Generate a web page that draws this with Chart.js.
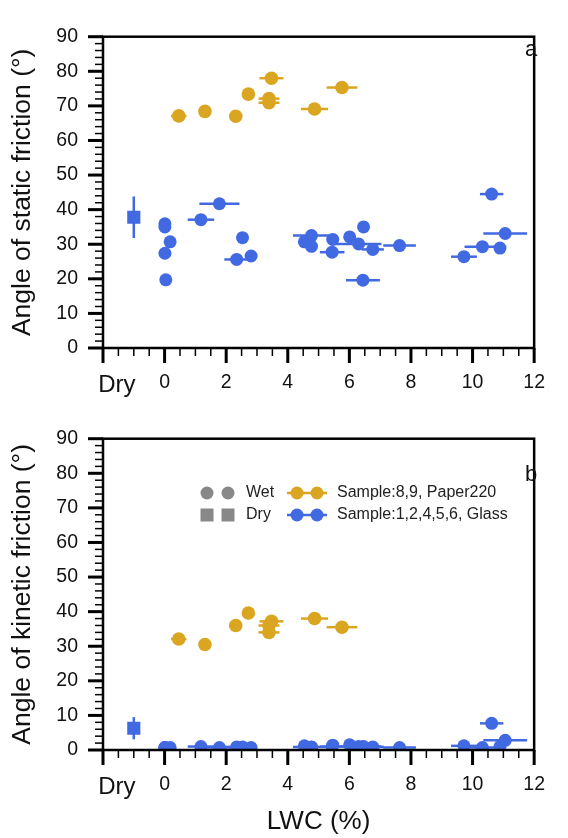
<!DOCTYPE html>
<html>
<head>
<meta charset="utf-8">
<script src="https://cdn.jsdelivr.net/npm/chart.js@4.4.0/dist/chart.umd.min.js"></script>
<style>
  html, body { margin: 0; padding: 0; background: #fff; }
  canvas { display: block; }
</style>
</head>
<body>
<canvas id="chartA" width="568" height="402"></canvas>
<canvas id="chartB" width="568" height="436"></canvas>
<script>
const FONT = "'Liberation Sans', Arial, Helvetica, sans-serif";
const GOLD = '#DAA520';
const BLUE = '#4169E1';
const GREY = '#888888';

// Sample 8,9 (Paper220), wet
const paperLwc = [0.46, 1.31, 2.31, 2.72, 3.47, 3.39, 3.39, 4.87, 5.76];
const paperLwcErr = [0.25, 0, 0, 0, 0.39, 0.34, 0.34, 0.44, 0.5];
const paperStatic = [67.1, 68.4, 67.0, 73.4, 78.0, 72.1, 70.9, 69.1, 75.3];
const paperKinetic = [32.1, 30.5, 36.0, 39.6, 37.2, 36.0, 34.0, 38.0, 35.5];

// Sample 1,2,4,5,6 (Glass), wet
const glassLwc = [0.01, 0.01, 0.18, 0.01, 0.04, 1.18, 1.78, 2.53, 2.34, 2.81, 4.77, 4.54, 4.77,
  5.46, 5.44, 6.01, 6.46, 6.30, 6.76, 7.63, 6.44, 10.62, 11.06, 10.32, 10.89, 9.72];
const glassLwcErr = [0, 0, 0, 0, 0, 0.43, 0.65, 0.18, 0.40, 0, 0.6, 0, 0,
  0, 0.4, 0, 0, 0.74, 0.36, 0.53, 0.55, 0.38, 0.71, 0.58, 0, 0.42];
const glassStatic = [35.9, 35.0, 30.7, 27.4, 19.7, 37.1, 41.7, 31.9, 25.6, 26.6, 32.5, 30.7, 29.4,
  31.4, 27.7, 32.1, 35.0, 30.1, 28.5, 29.6, 19.6, 44.5, 33.1, 29.3, 28.9, 26.4];
const glassKinetic = [0.7, 0.7, 0.7, 0.6, 0.6, 1.0, 0.7, 0.9, 0.9, 0.7, 0.9, 1.2, 0.8,
  1.4, 1.0, 1.5, 1.0, 1.0, 0.9, 0.7, 0.9, 7.7, 2.8, 0.7, 1.0, 1.2];

// Dry glass reference
const dryLwc = [-1];
const dryStatic = [37.8];
const dryStaticErr = [6.0];
const dryKinetic = [6.3];
const dryKineticErr = [3.2];

// x axis labels
const xTickValues = [-1.55, 0, 2, 4, 6, 8, 10, 12];
const xTickLabels = ['Dry', '0', '2', '4', '6', '8', '10', '12'];

function toPoints(xs, ys) {
  return xs.map((x, i) => ({ x: x, y: ys[i] }));
}

// Error bars drawn under the points
const errorBars = {
  id: 'errorBars',
  beforeDatasetsDraw(chart) {
    const ctx = chart.ctx;
    const xs = chart.scales.x, ys = chart.scales.y;
    ctx.save();
    chart.data.datasets.forEach(ds => {
      ctx.strokeStyle = ds.backgroundColor;
      ctx.lineWidth = 2.5;
      ds.data.forEach((p, i) => {
        const px = xs.getPixelForValue(p.x);
        const py = ys.getPixelForValue(p.y);
        const ex = ds.xErr ? ds.xErr[i] : 0;
        const ey = ds.yErr ? ds.yErr[i] : 0;
        ctx.beginPath();
        if (ex) {
          ctx.moveTo(xs.getPixelForValue(p.x - ex), py);
          ctx.lineTo(xs.getPixelForValue(p.x + ex), py);
        }
        if (ey) {
          ctx.moveTo(px, ys.getPixelForValue(p.y - ey));
          ctx.lineTo(px, ys.getPixelForValue(p.y + ey));
        }
        ctx.stroke();
      });
    });
    ctx.restore();
  }
};

// Box frame plus major/minor tick marks
const frame = {
  id: 'frame',
  afterDraw(chart, args, opts) {
    const ctx = chart.ctx;
    const a = chart.chartArea;
    const xs = chart.scales.x, ys = chart.scales.y;
    ctx.save();
    ctx.strokeStyle = '#000';
    ctx.lineCap = 'butt';
    for (let v = -2; v <= 12.001; v += 0.5) {
      const major = Math.abs(v % 2) < 0.001;
      const px = xs.getPixelForValue(v);
      ctx.lineWidth = major ? 3 : 1.5;
      ctx.beginPath();
      ctx.moveTo(px, a.bottom);
      ctx.lineTo(px, a.bottom + (major ? 15 : 8));
      ctx.stroke();
    }
    for (let v = 0; v <= 90; v += 2) {
      const major = v % 10 === 0;
      const py = ys.getPixelForValue(v);
      ctx.lineWidth = major ? 3 : 1.5;
      ctx.beginPath();
      ctx.moveTo(a.left, py);
      ctx.lineTo(a.left - (major ? 15 : 8), py);
      ctx.stroke();
    }
    ctx.lineWidth = 2.5;
    ctx.strokeRect(a.left, a.top, a.right - a.left, a.bottom - a.top);

    ctx.fillStyle = '#111';
    ctx.font = '22px ' + FONT;
    ctx.textAlign = 'center';
    ctx.textBaseline = 'middle';
    ctx.fillText(opts.panel, 531, opts.panelY);

    if (opts.legend) {
      const r1 = 91, r2 = 113;
      ctx.fillStyle = GREY;
      [207, 228].forEach(x => {
        ctx.beginPath();
        ctx.arc(x, r1, 6.5, 0, Math.PI * 2);
        ctx.fill();
        ctx.fillRect(x - 6.5, r2 - 6.5, 13, 13);
      });
      [[GOLD, r1], [BLUE, r2]].forEach(([c, y]) => {
        ctx.fillStyle = c;
        ctx.strokeStyle = c;
        ctx.lineWidth = 2.5;
        [297, 317].forEach(x => {
          ctx.beginPath();
          ctx.moveTo(x - 10, y);
          ctx.lineTo(x + 10, y);
          ctx.stroke();
          ctx.beginPath();
          ctx.arc(x, y, 6.5, 0, Math.PI * 2);
          ctx.fill();
        });
      });
      ctx.fillStyle = '#222';
      ctx.font = '16px ' + FONT;
      ctx.textAlign = 'left';
      ctx.fillText('Wet', 246, r1);
      ctx.fillText('Dry', 246, r2);
      ctx.fillText('Sample:8,9, Paper220', 337, r1);
      ctx.fillText('Sample:1,2,4,5,6, Glass', 337, r2);
    }
    ctx.restore();
  }
};

function buildChart(id, cfg) {
  const xHeight = cfg.height - 18 - 330;
  return new Chart(document.getElementById(id), {
    type: 'scatter',
    data: {
      datasets: [
        {
          label: 'Paper220 wet',
          data: toPoints(paperLwc, cfg.paper),
          xErr: paperLwcErr,
          backgroundColor: GOLD,
          borderWidth: 0,
          pointRadius: 6.8
        },
        {
          label: 'Glass wet',
          data: toPoints(glassLwc, cfg.glass),
          xErr: glassLwcErr,
          backgroundColor: BLUE,
          borderWidth: 0,
          pointRadius: 6.5
        },
        {
          label: 'Glass dry',
          data: toPoints(dryLwc, cfg.dry),
          yErr: cfg.dryErr,
          backgroundColor: BLUE,
          borderWidth: 0,
          pointStyle: 'rect',
          pointRadius: 9.3
        }
      ]
    },
    options: {
      responsive: false,
      animation: false,
      events: [],
      layout: { padding: { top: 18, right: 16, bottom: 0, left: 0 } },
      plugins: {
        legend: { display: false },
        tooltip: { enabled: false },
        frame: { panel: cfg.panel, panelY: cfg.panelY, legend: cfg.legend }
      },
      scales: {
        x: {
          type: 'linear',
          min: -2,
          max: 12,
          grid: { display: false, drawTicks: false },
          border: { display: false },
          afterBuildTicks: scale => {
            scale.ticks = xTickValues.map(v => ({ value: v }));
          },
          afterFit: scale => { scale.height = xHeight; },
          ticks: {
            autoSkip: false,
            maxRotation: 0,
            padding: 23,
            color: '#111',
            font: ctx => ctx.index === 0 ? { family: FONT, size: 24 } : { family: FONT, size: 19.5 },
            callback: (value, index) => xTickLabels[index]
          },
          title: {
            display: cfg.xTitle,
            text: 'LWC (%)',
            color: '#111',
            font: { family: FONT, size: 26 },
            padding: { top: 0, bottom: 1 }
          }
        },
        y: {
          min: 0,
          max: 90,
          grid: { display: false, drawTicks: false },
          border: { display: false },
          afterFit: scale => { scale.width = 103; },
          ticks: {
            stepSize: 10,
            padding: 25,
            color: '#111',
            font: { family: FONT, size: 19.5 }
          },
          title: {
            display: true,
            text: cfg.yTitle,
            color: '#111',
            font: { family: FONT, size: 26.5 },
            padding: { top: 7, bottom: 0 }
          }
        }
      }
    },
    plugins: [errorBars, frame]
  });
}

buildChart('chartA', {
  height: 402,
  paper: paperStatic,
  glass: glassStatic,
  dry: dryStatic,
  dryErr: dryStaticErr,
  panel: 'a',
  panelY: 50,
  legend: false,
  xTitle: false,
  yTitle: 'Angle of static friction (°)'
});

buildChart('chartB', {
  height: 436,
  paper: paperKinetic,
  glass: glassKinetic,
  dry: dryKinetic,
  dryErr: dryKineticErr,
  panel: 'b',
  panelY: 73,
  legend: true,
  xTitle: true,
  yTitle: 'Angle of kinetic friction (°)'
});
</script>
</body>
</html>
